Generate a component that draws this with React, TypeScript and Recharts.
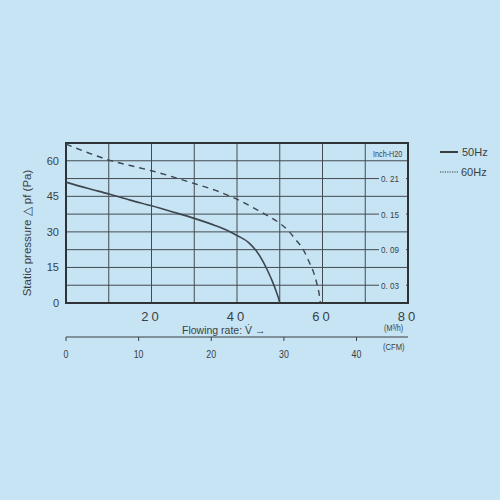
import { LineChart, Line, XAxis, YAxis, CartesianGrid, ReferenceArea } from 'recharts'

// flow rate (m³/h) vs static pressure (Pa)
const flow50 = [0, 5, 10, 15, 20, 25, 30, 35, 38, 40, 42.8, 44.5, 46, 47.2, 48.3, 49.3, 49.8, 50]
const pa50 = [51, 48.4, 46, 43.4, 41, 38.4, 35.7, 32.6, 30.4, 28.5, 25.4, 22, 17.8, 13.5, 9, 4.2, 1.5, 0]

const flow60 = [0, 5, 10, 15, 20, 25, 30, 35, 40, 43, 45.9, 48, 49.8, 52, 53.7, 55.5, 56.8, 58, 58.7, 59.2, 59.5]
const pa60 = [67, 63.5, 60.3, 58, 55.8, 53.2, 50.4, 47.5, 43.8, 41, 38.1, 36, 33.9, 30.5, 26.8, 22.5, 17.6, 12.5, 8, 4, 0]

const flowTicks = [0, 10, 20, 30, 40, 50, 60, 70, 80]
const flowLabels = [20, 40, 60, 80]
const paTicks = [0, 7.5, 15, 22.5, 30, 37.5, 45, 52.5, 60, 67.5]
const paLabels = [0, 15, 30, 45, 60]
const inchTicks = [0.03, 0.09, 0.15, 0.21]
const cfmTicks = [0, 10, 20, 30, 40]
const M3H_PER_CFM = 1.699
const PA_TO_INCH = 0.004

const data50 = flow50.map((x, i) => ({ x, p: pa50[i] }))
const data60 = flow60.map((x, i) => ({ x, p: pa60[i] }))

const BG = '#c6e4f4'
const INK = '#3a3f44'
const SANS = '"Liberation Sans", Arial, sans-serif'

function InchTick({ x, y, payload }: any) {
  return (
    <g>
      <rect x={x - 20} y={y - 5} width={27} height={10} fill={BG} />
      <text x={x} y={y} dy={3.5} textAnchor="end" fontSize={9.5} fill={INK} fontFamily={SANS}
        transform={`translate(${x} 0) scale(0.85 1) translate(${-x} 0)`}>
        {payload.value.toFixed(2).replace('.', '. ')}
      </text>
    </g>
  )
}

function CfmTick({ x, y, payload }: any) {
  return (
    <g>
      <line x1={x} y1={y} x2={x} y2={y + 4} stroke={INK} />
      <text x={x} y={y + 21} textAnchor="middle" fontSize={11} fill={INK} fontFamily={SANS}
        transform={`translate(${x} 0) scale(0.8 1) translate(${-x} 0)`}>
        {Math.round(payload.value / M3H_PER_CFM)}
      </text>
    </g>
  )
}

const abs = (left: number, top: number, size: number, narrow = 1): React.CSSProperties => ({
  position: 'absolute', left, top, fontSize: size, fontFamily: SANS, color: INK,
  whiteSpace: 'nowrap', lineHeight: 1, transformOrigin: '0 0', transform: `scaleX(${narrow})`,
})

export default function App() {
  return (
    <div style={{ position: 'absolute', left: 0, top: 0, width: 500, height: 500, background: BG }}>
      <LineChart width={500} height={500} data={data50}
        margin={{ top: 143, right: 92, left: 36, bottom: 133 }}>
        <CartesianGrid stroke="#454a4f" strokeWidth={1} yAxisId="pa"
          horizontalValues={paTicks} verticalValues={flowTicks} />
        <XAxis dataKey="x" type="number" domain={[0, 80]} ticks={flowTicks} height={34}
          tickLine={false} axisLine={false} tickSize={0} tickMargin={9} interval={0}
          tickFormatter={(v: number) => (flowLabels.includes(v) ? String(v) : '')}
          tick={{ fontSize: 13, fill: INK, letterSpacing: 3, fontFamily: SANS }} />
        <XAxis xAxisId="cfm" dataKey="x" type="number" domain={[0, 80]} allowDataOverflow
          ticks={cfmTicks.map(c => c * M3H_PER_CFM)} height={30} axisLine={{ stroke: INK }}
          tickLine={false} tickSize={0} tickMargin={0} interval={0} tick={<CfmTick />} />
        <YAxis yAxisId="pa" type="number" domain={[0, 67.5]} ticks={paTicks} width={30} interval={0}
          tickLine={false} axisLine={false} tickSize={0} tickMargin={7}
          tickFormatter={(v: number) => (paLabels.includes(v) ? String(v) : '')}
          tick={{ fontSize: 11, fill: INK, fontFamily: SANS }} />
        <YAxis yAxisId="in" orientation="right" mirror dataKey="p" type="number" allowDataOverflow
          domain={[0, 67.5]} ticks={inchTicks.map(v => v / PA_TO_INCH)} interval={0}
          tickLine={false} axisLine={false} tickSize={0} tickMargin={9}
          tick={(p: any) => <InchTick {...p} payload={{ value: p.payload.value * PA_TO_INCH }} />} />
        <ReferenceArea yAxisId="pa" x1={0} x2={80} y1={0} y2={67.5} fill="none" fillOpacity={0}
          stroke="#2f3337" strokeWidth={2} ifOverflow="visible" />
        <Line yAxisId="pa" data={data50} dataKey="p" type="monotone" stroke="#3e4750" strokeWidth={1.6}
          dot={false} isAnimationActive={false} name="50Hz" />
        <Line yAxisId="pa" data={data60} dataKey="p" type="monotone" stroke="#3e4750" strokeWidth={1.4}
          strokeDasharray="6 5" dot={false} isAnimationActive={false} name="60Hz" />
      </LineChart>

      <svg width={62} height={36} style={{ position: 'absolute', left: 438, top: 143 }}>
        <line x1={2} y1={9} x2={20} y2={9} stroke={INK} strokeWidth={2} />
        <text x={24} y={13} fontSize={11} fill={INK} fontFamily={SANS}>50Hz</text>
        <line x1={2} y1={29} x2={20} y2={29} stroke={INK} strokeWidth={1.2} strokeDasharray="1.2 1.2" />
        <text x={23} y={33} fontSize={11} fill={INK} fontFamily={SANS}>60Hz</text>
      </svg>

      <div style={{ ...abs(28, 233, 11.5), transformOrigin: '50% 50%', transform: 'translate(-50%, -50%) rotate(-90deg)' }}>
        Static pressure △ pf (Pa)
      </div>
      <div style={abs(373, 150, 8.5, 0.85)}>Inch-H20</div>
      <div style={abs(182, 325, 10.5)}>Flowing rate: V̇ →</div>
      <div style={abs(384, 324, 9, 0.8)}>(M³/h)</div>
      <div style={abs(383, 342, 9.5, 0.8)}>(CFM)</div>
    </div>
  )
}
